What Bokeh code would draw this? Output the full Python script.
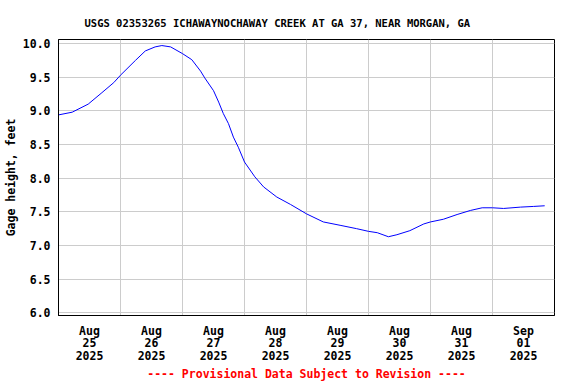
from bokeh.plotting import figure
from bokeh.models import FixedTicker, NumeralTickFormatter, Range1d
from bokeh.embed import file_html
from bokeh.resources import INLINE

# hours since 2025-08-25 00:00
hours = [0, 5.3, 11.5, 16.8, 21.4, 24, 29.8, 33.6, 37.4, 40, 43.4, 48, 51.6, 55, 56.6,
         60, 62, 63.8, 65.8, 67.7, 69.6, 72, 76, 79.4, 84.5, 89.8, 96, 102.5, 109,
         115.4, 120, 123.4, 127.7, 131, 136, 141.4, 144, 149, 154.3, 159.4, 164, 168,
         172.3, 178.8, 183.8, 188.2]
gage_ft = [8.94, 8.98, 9.10, 9.27, 9.42, 9.53, 9.75, 9.89, 9.95, 9.97, 9.95, 9.85, 9.76,
           9.59, 9.49, 9.30, 9.13, 8.96, 8.81, 8.61, 8.46, 8.24, 8.02, 7.87, 7.72, 7.61,
           7.47, 7.35, 7.30, 7.25, 7.21, 7.19, 7.13, 7.16, 7.22, 7.32, 7.35, 7.39, 7.46,
           7.52, 7.56, 7.56, 7.55, 7.57, 7.58, 7.59]

day_label_hours = [12, 36, 60, 84, 108, 132, 156, 180]
day_labels = ["Aug\n25\n2025", "Aug\n26\n2025", "Aug\n27\n2025", "Aug\n28\n2025",
              "Aug\n29\n2025", "Aug\n30\n2025", "Aug\n31\n2025", "Sep\n01\n2025"]
day_boundaries = [24, 48, 72, 96, 120, 144, 168]
y_ticks = [6.0, 6.5, 7.0, 7.5, 8.0, 8.5, 9.0, 9.5, 10.0]

FONT = "DejaVu Sans Mono"

p = figure(width=576, height=384, output_backend="svg", toolbar_location=None,
           x_range=Range1d(0, 192), y_range=Range1d(5.96, 10.06),
           min_border_left=58, min_border_right=22, min_border_top=39, min_border_bottom=68,
           background_fill_color="white", border_fill_color="white")

p.line(hours, gage_ft, line_color="#0000ff", line_width=1)

p.title.text = "USGS 02353265 ICHAWAYNOCHAWAY CREEK AT GA 37, NEAR MORGAN, GA"
p.title.align = "left"
p.title.offset = 26
p.title.text_font = FONT
p.title.text_font_size = "10.5px"
p.title.text_font_style = "bold"
p.title.text_color = "black"
p.title.standoff = 22

p.outline_line_color = "black"
p.outline_line_width = 1

p.xaxis.ticker = FixedTicker(ticks=day_label_hours)
p.xaxis.major_label_overrides = {h: lab for h, lab in zip(day_label_hours, day_labels)}
p.xgrid.ticker = FixedTicker(ticks=day_boundaries)
p.yaxis.ticker = FixedTicker(ticks=y_ticks)
p.yaxis.formatter = NumeralTickFormatter(format="0.0")

for ax in (p.xaxis[0], p.yaxis[0]):
    ax.major_tick_line_color = None
    ax.minor_tick_line_color = None
    ax.major_tick_out = 0
    ax.major_tick_in = 0
    ax.minor_tick_out = 0
    ax.minor_tick_in = 0
    ax.axis_line_color = "black"
    ax.major_label_text_font = FONT
    ax.major_label_text_font_size = "11.5px"
    ax.major_label_text_font_style = "bold"
    ax.major_label_text_color = "black"
    ax.axis_label_text_font = FONT
    ax.axis_label_text_font_size = "11.5px"
    ax.axis_label_text_font_style = "bold"

p.xaxis.major_label_standoff = 8
p.xaxis.major_label_text_line_height = 0.92
p.xaxis.axis_label = "---- Provisional Data Subject to Revision ----"
p.xaxis.axis_label_text_color = "red"
p.xaxis.axis_label_standoff = 1

p.yaxis.major_label_standoff = 8
p.yaxis.axis_label = "Gage height, feet"
p.yaxis.axis_label_text_color = "black"
p.yaxis.axis_label_standoff = 2

p.grid.grid_line_color = "#cccccc"
p.grid.grid_line_width = 1

open("out.html", "w").write(file_html(p, INLINE))
